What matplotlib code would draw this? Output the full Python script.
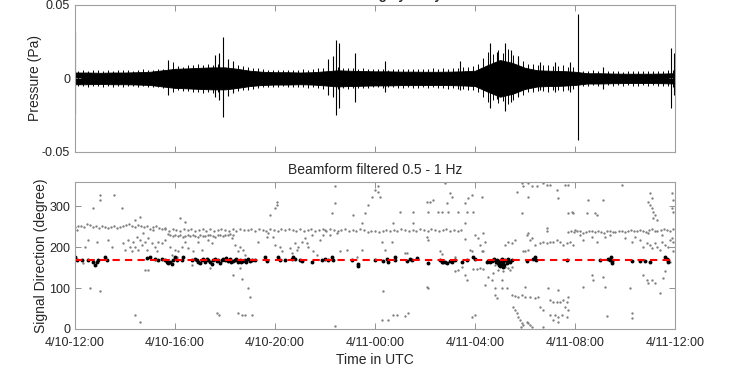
import numpy as np
import matplotlib
matplotlib.use('Agg')
from matplotlib import pyplot as plt

plt.rcParams['font.family'] = ['Liberation Sans', 'DejaVu Sans']
plt.rcParams['font.size'] = 9

# time axis: hours after 4/10 12:00 UTC
tick_hours = [0, 4, 8, 12, 16, 20, 24]
tick_labels = ['4/10-12:00', '4/10-16:00', '4/10-20:00', '4/11-00:00',
               '4/11-04:00', '4/11-08:00', '4/11-12:00']

# pressure envelope (Pa), sampled every 0.5 h
env_t = np.arange(0, 24.5, 0.5)
env_amp = [0.0040, 0.0040, 0.0038, 0.0040, 0.0040, 0.0042, 0.0045, 0.0055,
           0.0065, 0.0068, 0.0072, 0.0075, 0.0075, 0.0065, 0.0052, 0.0045,
           0.0042, 0.0042, 0.0040, 0.0042, 0.0048, 0.0055, 0.0052, 0.0050,
           0.0048, 0.0048, 0.0046, 0.0046, 0.0045, 0.0045, 0.0046, 0.0048,
           0.0052, 0.0090, 0.0125, 0.0105, 0.0072, 0.0055, 0.0052, 0.0050,
           0.0045, 0.0035, 0.0035, 0.0033, 0.0032, 0.0032, 0.0032, 0.0033,
           0.0035]

# large transients: time, max, min
spike_t = [0.0, 3.7, 5.6, 5.75, 5.9, 6.1, 6.3, 10.1, 10.3, 10.45, 10.55, 11.2,
           12.4, 15.4, 16.6, 16.9, 17.2, 17.45, 17.7, 18.6, 19.2, 19.8, 20.1,
           21.1, 23.85, 23.95]
spike_hi = [0.032, 0.0126, 0.016, 0.017, 0.028, 0.013, 0.012, 0.013, 0.015,
            0.026, 0.024, 0.0176, 0.012, 0.012, 0.024, 0.018, 0.024, 0.019,
            0.015, 0.011, 0.011, 0.011, 0.044, 0.008, 0.021, 0.017]
spike_lo = [-0.024, -0.011, -0.013, -0.015, -0.026, -0.012, -0.010, -0.011,
            -0.013, -0.025, -0.020, -0.016, -0.009, -0.008, -0.020, -0.014,
            -0.022, -0.016, -0.012, -0.008, -0.009, -0.009, -0.042, -0.007,
            -0.020, -0.011]

# peak values of the wiggles, one per 0.2 h window (Pa)
hair_up = [0.0052, 0.0058, 0.0050, 0.0055, 0.0060, 0.0053, 0.0057, 0.0051,
           0.0056, 0.0059, 0.0054, 0.0050, 0.0057, 0.0061, 0.0055, 0.0058,
           0.0062, 0.0066, 0.0070, 0.0110,
           0.0085, 0.0080, 0.0092, 0.0088, 0.0095, 0.0090, 0.0098, 0.0094,
           0.0100, 0.0096, 0.0105, 0.0098, 0.0090, 0.0085, 0.0080, 0.0072,
           0.0068, 0.0062, 0.0060, 0.0058,
           0.0056, 0.0058, 0.0055, 0.0060, 0.0057, 0.0062, 0.0058, 0.0065,
           0.0068, 0.0072, 0.0078, 0.0080, 0.0075, 0.0070, 0.0072, 0.0068,
           0.0066, 0.0070, 0.0064, 0.0062,
           0.0062, 0.0065, 0.0060, 0.0063, 0.0066, 0.0061, 0.0064, 0.0067,
           0.0062, 0.0065, 0.0063, 0.0068, 0.0064, 0.0070, 0.0066, 0.0072,
           0.0068, 0.0075, 0.0078, 0.0085,
           0.0100, 0.0140, 0.0180, 0.0165, 0.0190, 0.0170, 0.0200, 0.0160,
           0.0150, 0.0120, 0.0100, 0.0095, 0.0090, 0.0088, 0.0092, 0.0085,
           0.0082, 0.0090, 0.0080, 0.0078,
           0.0060, 0.0052, 0.0050, 0.0055, 0.0048, 0.0052, 0.0050, 0.0047,
           0.0050, 0.0046, 0.0049, 0.0052, 0.0048, 0.0050, 0.0047, 0.0051,
           0.0049, 0.0053, 0.0055, 0.0058]
hair_dn = [0.0050, 0.0054, 0.0056, 0.0052, 0.0055, 0.0058, 0.0051, 0.0056,
           0.0053, 0.0057, 0.0052, 0.0055, 0.0059, 0.0054, 0.0057, 0.0060,
           0.0058, 0.0064, 0.0068, 0.0090,
           0.0082, 0.0088, 0.0085, 0.0093, 0.0090, 0.0097, 0.0092, 0.0100,
           0.0095, 0.0102, 0.0097, 0.0093, 0.0088, 0.0082, 0.0076, 0.0070,
           0.0065, 0.0060, 0.0057, 0.0056,
           0.0058, 0.0054, 0.0059, 0.0056, 0.0060, 0.0057, 0.0063, 0.0060,
           0.0066, 0.0070, 0.0076, 0.0078, 0.0072, 0.0068, 0.0070, 0.0066,
           0.0068, 0.0063, 0.0066, 0.0060,
           0.0060, 0.0063, 0.0062, 0.0059, 0.0064, 0.0063, 0.0060, 0.0065,
           0.0064, 0.0061, 0.0066, 0.0062, 0.0067, 0.0064, 0.0069, 0.0066,
           0.0070, 0.0073, 0.0080, 0.0082,
           0.0095, 0.0130, 0.0160, 0.0150, 0.0170, 0.0155, 0.0175, 0.0145,
           0.0130, 0.0110, 0.0095, 0.0090, 0.0088, 0.0085, 0.0090, 0.0082,
           0.0080, 0.0086, 0.0078, 0.0075,
           0.0058, 0.0050, 0.0052, 0.0048, 0.0050, 0.0049, 0.0047, 0.0050,
           0.0046, 0.0049, 0.0047, 0.0050, 0.0051, 0.0048, 0.0050, 0.0048,
           0.0052, 0.0051, 0.0054, 0.0056]
hair_t = 0.1 + 0.2 * np.arange(len(hair_up))

# back-azimuth band (gray), read per beam window
band1_d = [250, 253, 251, 249, 258, 254, 250, 252, 248, 251, 249, 247, 250,
           252, 248, 250, 251, 254, 257, 252, 250, 255, 253, 249, 251, 246,
           249, 252, 248, 245, 247]
band2_d = [244, 241, 246, 243, 240, 245, 242, 244, 239, 243, 245, 241, 244,
           240, 242, 246,
           243, 241, 244, 240, 245, 242, 243, 246, 241, 244, 242, 240, 245,
           243, 241, 244, 242, 246, 243, 240,
           244, 241, 243, 245, 240, 242, 244, 241, 246, 243, 239, 242, 245,
           241, 243, 240, 244, 242, 238, 241,
           239, 237, 240, 242, 241, 243, 240, 244, 242, 241, 243, 240, 245,
           242, 241, 244, 243, 240, 242, 244, 241, 243, 239, 242]
band3_d = [232, 229, 228, 230, 227, 229, 226, 228, 231, 227, 229, 228, 226,
           230, 228, 227, 229, 231, 228, 226, 229, 230, 228, 231, 229, 233, 230]
band4_d = [238, 240, 237, 239, 241, 236, 238, 240, 239, 237, 241, 238, 236,
           239, 240, 238, 237, 241, 239, 238, 240, 242, 239, 241, 243, 240,
           238, 242, 244, 241, 239, 243, 245, 242, 240, 244]
band1_t = 0.0 + 0.12 * np.arange(len(band1_d))
band2_t = 3.6 + 0.15 * np.arange(len(band2_d))
band3_t = 3.7 + 0.10 * np.arange(len(band3_d))
band4_t = 19.7 + 0.12 * np.arange(len(band4_d))

# scattered gray detections (hour, degree)
gray_t = [1.0, 1.0, 1.57, 0.73, 1.87, 0.53, 0.87, 0.4, 1.33, 1.47, 0.33, 0.6,
          1.0, 0.07, 1.93, 2.0, 2.13, 2.2, 2.27, 2.33, 2.4, 2.47, 2.53, 2.6,
          2.67, 2.73, 2.8, 2.87, 2.93, 3.07, 3.13, 3.2, 3.27, 3.33, 2.6, 2.4,
          2.8, 2.93, 2.4, 2.6, 3.47, 3.6, 3.8, 4.0, 4.13, 4.27, 4.4, 4.2, 4.4,
          4.53, 4.73, 4.93, 5.07, 5.33, 5.47, 4.67, 5.4, 5.67, 5.76, 3.87, 4.07,
          6.27, 6.4, 6.53, 6.6, 6.73, 6.8, 6.33, 6.67, 6.93, 7.0, 6.53, 6.67,
          6.8, 7.07, 7.8, 8.0, 8.07, 8.07, 7.33, 7.67, 7.73, 7.93, 8.0, 8.2,
          8.27, 8.6, 8.67, 8.8, 8.87, 8.93, 9.07, 9.2, 9.27, 9.33, 9.47, 9.53,
          9.67, 9.8, 9.93, 10.0, 10.2, 10.27, 10.4, 10.4, 10.47, 10.6, 10.87,
          11.13, 11.47, 11.6, 11.73, 11.87, 12.0, 10.4, 11.47, 11.27, 6.6,
          12.13, 12.2, 12.13, 14.8, 15.0, 15.07, 14.07, 14.2, 14.33, 14.87,
          15.6, 15.73, 15.87, 16.27, 13.0, 13.53, 14.13, 14.53, 14.67, 14.93,
          15.33, 15.67, 15.93, 13.53, 12.73, 15.6, 12.27, 12.67, 12.4, 13.2,
          13.27, 14.07, 14.13, 14.6, 14.67, 15.2, 15.8, 15.87, 16.0, 16.13,
          16.2, 16.33, 16.4, 16.27, 15.6, 12.33, 14.07, 14.13, 12.27, 12.53,
          12.73, 12.87, 13.2, 13.33, 15.87, 16.0,
          15.2, 15.33, 15.47, 15.6, 15.67, 15.93, 16.07, 16.2, 16.33, 16.4,
          16.53, 16.67, 16.73, 16.8, 16.93, 17.07, 17.13, 17.2, 17.27, 17.33,
          17.4, 17.47, 16.8, 16.8, 16.87, 17.07, 17.27, 17.07, 17.47, 17.6,
          17.73, 17.87, 17.53, 17.6, 17.67, 17.73, 17.8, 17.87, 17.84, 17.93,
          17.87, 17.93, 17.67, 17.87, 17.93, 17.33, 17.47, 17.6, 17.2, 16.33,
          18.13, 18.27, 18.47, 18.73, 18.87, 19.0, 19.6, 19.73, 19.27, 19.33,
          21.87, 21.13, 20.53, 19.87, 19.93, 19.73, 20.47, 20.8, 20.87, 18.13,
          23.0, 23.07, 22.93, 23.0, 23.07, 23.13, 23.2, 23.13, 23.27, 23.87,
          23.93, 23.87, 23.93,
          18.4, 18.6, 18.73, 18.87, 19.0, 19.13, 19.27, 19.4, 19.53, 19.67,
          19.8, 19.93, 18.27, 18.07, 18.13, 18.2, 18.0, 18.13, 18.87, 18.87,
          20.0, 20.2, 20.33, 20.67, 20.87, 21.2, 21.4, 22.0, 22.27, 22.4, 22.6,
          22.73, 22.87, 23.0, 23.07, 23.2, 23.27, 23.4, 23.47, 23.6, 23.73,
          23.8, 23.87, 23.93, 23.93, 23.47, 22.93,
          18.0, 18.0, 18.2, 18.4, 18.53, 18.6, 18.73, 18.93, 19.0, 19.13, 19.27,
          19.4, 19.53, 19.67, 19.73, 19.6, 19.73, 19.0, 19.2, 19.33, 19.47,
          19.13, 19.33, 19.67, 18.07, 18.13, 18.2, 18.27, 18.73, 20.33, 20.67,
          20.73, 21.13, 21.2, 21.27, 22.2, 22.27, 22.27, 22.73, 22.87, 22.93,
          23.07, 23.2, 23.4, 23.53, 23.6, 23.8, 19.33]
gray_d = [328, 316, 328, 296, 296, 218, 214, 202, 218, 202, 161, 100, 93, 243,
          210, 194, 218, 202, 190, 214, 202, 226, 194, 218, 206, 234, 214, 194,
          222, 210, 243, 202, 190, 214, 275, 267, 145, 145, 35, 16, 210, 218,
          202, 194, 190, 202, 214, 271, 263, 198, 190, 214, 194, 218, 210, 157,
          149, 39, 35, 181, 177,
          222, 206, 190, 202, 194, 181, 132, 123, 100, 78, 39, 35, 35, 35, 278,
          296, 312, 304, 214, 226, 234, 226, 206, 202, 190, 198, 185, 210, 194,
          202, 214, 222, 210, 202, 230, 190, 181, 218, 230, 243, 230, 283, 349,
          308, 234, 190, 194, 279, 259, 283, 304, 324, 341, 8, 194, 177, 149,
          336, 324, 349, 357, 332, 324, 312, 312, 316, 308, 308, 320, 328, 324,
          286, 287, 287, 287, 286, 286, 286, 286, 287, 259, 259, 259, 214, 214,
          194, 187, 187, 226, 218, 190, 184, 177, 194, 190, 230, 222, 206, 234,
          214, 190, 220, 92, 104, 100, 22, 22, 35, 35, 33, 39, 30, 35,
          141, 145, 151, 132, 120, 146, 146, 149, 146, 108, 128, 120, 136, 157,
          145, 157, 141, 151, 161, 149, 145, 153, 100, 83, 75, 100, 100, 120,
          83, 81, 79, 83, 55, 47, 39, 30, 22, 14, 6, 10, 357, 349, 336, 283,
          190, 214, 210, 218, 206, 190,
          357, 349, 349, 357, 353, 353, 353, 353, 341, 320, 353, 316, 316, 287,
          283, 283, 283, 283, 279, 324, 332, 320, 312, 304, 296, 287, 279, 271,
          267, 332, 316, 296, 287,
          206, 210, 212, 210, 214, 214, 218, 214, 206, 210, 214, 206, 222, 230,
          234, 218, 190, 194, 239, 247, 243, 230, 218, 226, 214, 226, 230, 222,
          214, 226, 218, 202, 210, 206, 198, 210, 202, 194, 214, 206, 202, 218,
          222, 214, 190, 230, 234,
          104, 79, 79, 75, 79, 55, 47, 100, 70, 67, 65, 67, 70, 67, 79, 55, 47,
          35, 35, 30, 35, 22, 16, 29, 18, 14, 10, 6, 6, 104, 132, 120, 128, 104,
          32, 100, 39, 26, 132, 120, 112, 120, 112, 88, 124, 141, 165, 96]

# detections from the target direction (black)
black_t = [0.0, 0.07, 0.27, 0.53, 0.73, 0.8, 0.87, 0.93, 1.2, 1.27,
           2.87, 3.0, 3.2, 3.33, 3.47, 3.6, 3.67, 3.73, 3.8, 3.87, 3.93, 4.0,
           4.07, 4.27, 4.33,
           4.67, 4.8, 4.87, 4.93, 5.0, 5.07, 5.13, 5.2, 5.27, 5.33, 5.4, 5.47,
           5.53, 5.6, 5.67, 5.73, 5.8, 5.87, 5.93,
           6.0, 6.05, 6.1, 6.2, 6.25, 6.3, 6.4, 6.45, 6.5, 6.6, 6.65, 6.7, 6.8,
           6.85, 6.9, 7.0, 7.07,
           7.2, 7.6, 7.67, 8.13, 8.2, 8.4, 8.67, 8.73, 8.8, 9.0, 9.09, 9.47,
           9.87, 10.0, 10.13, 10.27, 10.33, 11.07, 11.31, 11.33,
           12.0, 12.33, 12.47, 12.53, 12.8, 12.8, 13.27, 13.4, 13.47, 13.67,
           14.13, 14.6, 14.67, 14.73, 14.8, 14.87, 15.0, 15.07, 15.2, 15.47,
           15.67, 15.93, 16.0,
           16.47, 16.53, 16.6, 16.67, 16.73, 16.77, 16.83, 16.87, 16.91, 16.93,
           16.96, 17.0, 17.04, 17.07, 17.09, 17.13, 17.17, 17.2, 17.27, 17.31,
           17.33, 17.4, 17.47, 17.0, 17.13,
           18.07, 18.33, 18.4, 18.43, 19.67, 21.0, 21.33, 21.4, 21.47, 21.44,
           21.49, 22.27, 22.6, 22.8, 23.0, 23.6, 23.67, 23.71, 23.73]
black_d = [177, 168, 168, 168, 163, 157, 165, 169, 176, 168,
           173, 176, 171, 169, 172, 168, 165, 161, 163, 159, 169, 176, 169,
           168, 176,
           168, 172, 169, 165, 161, 168, 171, 165, 172, 169, 163, 159, 169,
           172, 166, 169, 161, 168, 171,
           169, 173, 166, 171, 163, 167, 169, 172, 165, 170, 164, 167, 168,
           163, 171, 166, 169,
           169, 176, 166, 176, 169, 168, 172, 177, 171, 169, 166, 164, 169,
           172, 168, 176, 169, 169, 159, 154,
           169, 166, 172, 163, 169, 176, 166, 172, 169, 174, 161, 168, 163,
           165, 163, 161, 166, 163, 169, 163, 169, 177, 172,
           163, 166, 164, 166, 168, 171, 164, 169, 161, 166, 157, 163, 169,
           159, 172, 165, 157, 169, 161, 168, 172, 164, 169, 154, 153,
           166, 172, 177, 169, 169, 169, 172, 169, 161, 176, 166, 166, 166,
           166, 163, 177, 171, 165, 169]

ref_direction = 168

fig = plt.figure(figsize=(7.5, 3.75), dpi=100)
ax1 = fig.add_axes([0.1, 0.595, 0.8, 0.392])
ax2 = fig.add_axes([0.1, 0.1227, 0.8, 0.392])

# top panel: pressure waveform
env = np.array(env_amp)
ax1.fill_between(env_t, -env, env, color='black', linewidth=0.6)
ax1.vlines(hair_t, -np.array(hair_dn), hair_up, color='black', linewidth=0.7)
ax1.vlines(spike_t, spike_lo, spike_hi, color='black', linewidth=0.8)
ax1.set_xlim(0, 24)
ax1.set_ylim(-0.05, 0.05)
ax1.set_yticks([-0.05, 0, 0.05])
ax1.set_yticklabels(['-0.05', '0', '0.05'])
ax1.set_xticks(tick_hours)
ax1.set_xticklabels([])
ax1.set_ylabel('Pressure (Pa)', fontsize=10, labelpad=0)

# bottom panel: beamforming directions
gc = '#7f7f7f'
ms = 1.7
ax2.plot(band1_t, band1_d, 'o', color=gc, ms=ms, mew=0)
ax2.plot(band2_t, band2_d, 'o', color=gc, ms=ms, mew=0)
ax2.plot(band3_t, band3_d, 'o', color=gc, ms=ms, mew=0)
ax2.plot(band4_t, band4_d, 'o', color=gc, ms=ms, mew=0)
ax2.plot(gray_t, gray_d, 'o', color=gc, ms=ms, mew=0)
ax2.plot(black_t, black_d, 'o', color='black', ms=2.8, mew=0)
ax2.axhline(ref_direction, color='red', linestyle=(0, (3.5, 2.5)), linewidth=1.5)
ax2.set_xlim(0, 24)
ax2.set_ylim(0, 360)
ax2.set_yticks([0, 100, 200, 300])
ax2.set_xticks(tick_hours)
ax2.set_xticklabels(tick_labels)
ax2.set_xlabel('Time in UTC', fontsize=10, labelpad=3)
ax2.set_ylabel('Signal Direction (degree)', fontsize=10, labelpad=1)
ax2.set_title('Beamform filtered 0.5 - 1 Hz', fontsize=10, color='#262626', pad=6)

for ax in (ax1, ax2):
    for s in ax.spines.values():
        s.set_color('#a0a0a0')
        s.set_linewidth(0.8)
    ax.tick_params(direction='in', length=4, width=0.6, color='#808080',
                   top=True, right=True, labelcolor='#262626', labelsize=9)
    ax.yaxis.label.set_color('#262626')
    ax.xaxis.label.set_color('#262626')
ax2.tick_params(axis='x', pad=6)

# figure title, mostly cut off by the top edge
fig.text(0.338, 1.004, 'Infrasound recording by array', fontsize=9.5,
         fontweight='bold', color='#262626', va='baseline', ha='left')

fig.savefig('out.png', dpi=100)
